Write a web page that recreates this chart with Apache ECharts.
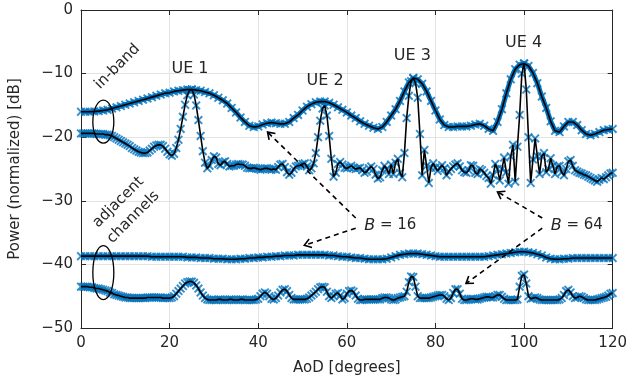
<!DOCTYPE html>
<html>
<head>
<meta charset="utf-8">
<script src="https://cdn.jsdelivr.net/npm/echarts@6/dist/echarts.min.js"></script>
<style>html,body{margin:0;padding:0;background:#fff;}#c{width:630px;height:390px;}</style>
</head>
<body>
<div id="c"></div>
<script>
// ---- data (AoD in degrees, power in dB) ----
const X_TICKS = [0, 20, 40, 60, 80, 100, 120];
const Y_TICKS = [-50, -40, -30, -20, -10, 0];
const STEP_B16 = 1;    // degrees between samples for B = 16 curves
const STEP_B64 = 0.5;  // degrees between samples for B = 64 curves

// B = 16, in-band (x = 0..120 step 1)
const B16_INBAND = [
-16.0,-16.0,-16.0,-15.95,-15.9,-15.8,-15.7,-15.5,-15.3,-15.1,
-14.9,-14.7,-14.5,-14.3,-14.1,-13.9,-13.7,-13.5,-13.3,-13.1,
-13.0,-12.8,-12.7,-12.6,-12.5,-12.5,-12.6,-12.7,-12.9,-13.1,
-13.4,-13.8,-14.2,-14.7,-15.4,-16.1,-16.9,-17.6,-18.2,-18.4,
-18.3,-18.0,-17.8,-17.7,-17.8,-17.9,-17.9,-17.6,-17.0,-16.5,
-15.8,-15.2,-14.8,-14.5,-14.4,-14.4,-14.6,-14.9,-15.3,-15.7,
-16.1,-16.6,-17.0,-17.5,-17.9,-18.2,-18.5,-18.7,-18.4,-17.6,
-16.6,-15.6,-14.3,-12.8,-11.4,-10.7,-10.9,-11.6,-12.8,-14.3,
-15.8,-17.2,-18.1,-18.4,-18.4,-18.3,-18.3,-18.3,-18.2,-18.0,
-17.9,-18.2,-18.7,-19.0,-17.6,-15.6,-13.1,-10.9,-9.3,-8.6,
-8.4,-8.8,-9.9,-11.5,-13.6,-15.4,-17.5,-19.0,-19.2,-18.3,
-17.6,-17.6,-18.1,-18.9,-19.5,-19.7,-19.5,-19.2,-18.9,-18.8,
-18.7
];

// B = 64, in-band (x = 0..120 step 0.5)
const B64_INBAND = [
-19.4,-19.4,-19.4,-19.4,-19.4,-19.4,-19.4,-19.5,-19.5,-19.5,
-19.5,-19.6,-19.6,-19.7,-19.8,-20.0,-20.2,-20.4,-20.6,-20.8,
-21.0,-21.2,-21.4,-21.7,-21.9,-22.1,-22.3,-22.4,-22.5,-22.5,
-22.4,-22.1,-21.8,-21.5,-21.3,-21.2,-21.2,-21.4,-21.8,-22.3,
-22.7,-22.9,-22.6,-21.7,-20.4,-18.7,-16.8,-14.9,-13.4,-12.6,
-12.5,-13.3,-15.0,-17.3,-19.8,-22.2,-24.0,-24.9,-24.5,-23.6,
-23.0,-23.2,-24.2,-24.4,-23.9,-23.8,-24.2,-24.6,-24.5,-24.5,
-24.3,-24.2,-24.3,-24.3,-24.5,-24.8,-24.9,-24.9,-24.8,-24.9,
-25.0,-25.1,-25.0,-24.9,-24.9,-25.0,-25.1,-25.0,-25.1,-24.7,
-24.3,-24.2,-24.7,-25.5,-25.9,-25.6,-25.0,-24.6,-24.5,-24.4,
-24.2,-24.1,-24.6,-25.2,-24.9,-24.1,-22.5,-20.0,-17.4,-15.5,
-15.0,-16.6,-19.8,-23.4,-26.2,-25.6,-24.2,-23.9,-24.3,-24.8,
-24.9,-24.7,-24.5,-24.8,-25.0,-24.9,-24.8,-25.2,-25.6,-25.4,
-24.9,-24.6,-25.0,-25.9,-26.5,-26.3,-25.2,-24.5,-25.0,-25.8,
-24.3,-25.8,-24.0,-23.4,-25.6,-26.3,-22.5,-17.0,-13.5,-11.2,
-10.7,-11.5,-13.8,-19.5,-26.0,-22.0,-24.5,-27.2,-24.8,-24.1,
-24.8,-25.3,-24.8,-24.4,-24.9,-26.0,-25.4,-25.0,-24.6,-24.3,
-24.1,-24.6,-25.2,-25.5,-25.6,-25.2,-24.4,-24.5,-25.6,-25.8,
-25.0,-25.2,-25.6,-26.1,-26.4,-27.3,-26.0,-24.2,-25.0,-26.8,
-25.0,-23.2,-25.5,-27.3,-23.0,-21.2,-27.0,-21.5,-16.5,-10.0,
-8.4,-12.5,-20.0,-27.2,-23.5,-20.2,-23.0,-25.8,-23.0,-22.5,
-25.5,-25.0,-23.3,-24.5,-25.8,-24.6,-24.5,-25.5,-26.0,-25.0,
-23.8,-23.6,-24.5,-25.2,-25.4,-25.6,-25.7,-25.9,-26.0,-26.2,
-26.4,-26.6,-26.8,-27.0,-26.7,-26.4,-26.6,-26.3,-26.0,-25.7,
-25.6
];

// B = 16, adjacent channels (x = 0..120 step 1)
const B16_ADJ = [
-38.7,-38.7,-38.7,-38.7,-38.7,-38.7,-38.7,-38.7,-38.7,-38.7,
-38.7,-38.7,-38.7,-38.7,-38.7,-38.7,-38.8,-38.8,-38.8,-38.8,
-38.8,-38.8,-38.8,-38.8,-38.9,-38.9,-38.9,-39.0,-39.0,-39.0,
-39.1,-39.1,-39.1,-39.2,-39.2,-39.2,-39.1,-39.1,-39.0,-39.0,
-38.9,-38.9,-38.8,-38.8,-38.7,-38.7,-38.6,-38.6,-38.6,-38.5,
-38.5,-38.5,-38.5,-38.5,-38.5,-38.5,-38.6,-38.6,-38.7,-38.8,
-38.8,-38.9,-39.0,-39.0,-39.1,-39.2,-39.2,-39.2,-39.2,-39.1,
-38.9,-38.7,-38.5,-38.4,-38.3,-38.3,-38.3,-38.4,-38.5,-38.6,
-38.7,-38.8,-38.8,-38.8,-38.8,-38.8,-38.8,-38.8,-38.8,-38.8,
-38.8,-38.8,-38.7,-38.6,-38.5,-38.4,-38.3,-38.2,-38.1,-38.0,
-38.0,-38.1,-38.2,-38.4,-38.6,-38.9,-39.1,-39.2,-39.2,-39.1,
-39.1,-39.0,-39.0,-39.0,-39.0,-39.0,-39.0,-39.0,-39.0,-39.0,
-39.0
];

// B = 64, adjacent channels (x = 0..120 step 0.5)
const B64_ADJ = [
-43.5,-43.5,-43.5,-43.5,-43.6,-43.6,-43.7,-43.8,-43.8,-43.9,
-44.0,-44.1,-44.2,-44.4,-44.5,-44.7,-44.8,-44.9,-45.0,-45.1,
-45.2,-45.2,-45.3,-45.3,-45.3,-45.3,-45.3,-45.3,-45.3,-45.3,
-45.2,-45.2,-45.2,-45.2,-45.2,-45.2,-45.2,-45.3,-45.3,-45.3,
-45.3,-45.2,-45.0,-44.6,-44.2,-43.8,-43.4,-43.0,-42.8,-42.7,
-42.7,-42.9,-43.3,-43.8,-44.4,-44.9,-45.3,-45.5,-45.6,-45.6,
-45.6,-45.6,-45.5,-45.5,-45.6,-45.6,-45.6,-45.5,-45.5,-45.6,
-45.6,-45.6,-45.5,-45.5,-45.6,-45.6,-45.6,-45.6,-45.6,-45.5,
-45.4,-45.0,-44.6,-44.4,-44.6,-45.0,-45.4,-45.5,-45.3,-44.9,
-44.4,-44.0,-43.9,-44.2,-44.8,-45.3,-45.5,-45.5,-45.5,-45.5,
-45.5,-45.5,-45.4,-45.2,-44.9,-44.6,-44.3,-43.9,-43.6,-43.5,
-43.6,-44.3,-45.0,-45.3,-45.0,-44.6,-44.5,-44.9,-45.5,-45.3,
-44.6,-44.2,-44.1,-44.3,-44.9,-45.4,-45.6,-45.6,-45.5,-45.5,
-45.5,-45.5,-45.5,-45.5,-45.5,-45.5,-45.3,-45.2,-45.2,-45.3,
-45.5,-45.6,-45.5,-45.3,-45.2,-45.1,-45.0,-44.3,-42.8,-41.9,
-42.0,-43.5,-45.0,-45.3,-45.3,-45.3,-45.3,-45.3,-45.2,-45.1,
-45.0,-44.9,-44.8,-44.8,-45.0,-45.4,-45.6,-45.3,-44.5,-43.9,
-43.9,-44.6,-45.4,-45.6,-45.6,-45.5,-45.4,-45.4,-45.5,-45.5,
-45.4,-45.3,-45.2,-45.1,-45.1,-45.2,-45.2,-45.0,-44.8,-44.8,
-45.1,-45.4,-45.6,-45.6,-45.6,-45.6,-45.6,-45.5,-43.5,-41.8,
-41.6,-43.0,-45.0,-45.4,-45.3,-45.2,-45.3,-45.5,-45.6,-45.6,
-45.6,-45.6,-45.6,-45.6,-45.6,-45.6,-45.5,-45.3,-44.8,-44.2,
-44.0,-44.4,-45.0,-45.3,-45.2,-45.0,-45.1,-45.3,-45.5,-45.6,
-45.6,-45.6,-45.6,-45.5,-45.4,-45.3,-45.2,-45.1,-44.9,-44.6,
-44.5
];

// ---- annotations (data coordinates) ----
const UE_LABELS = [
  {text: 'UE 1', x: 24.6, y: -9.2},
  {text: 'UE 2', x: 55.1, y: -11.1},
  {text: 'UE 3', x: 74.8, y: -7.2},
  {text: 'UE 4', x: 99.9, y: -5.2}
];
const B_LABELS = [
  {text: '16', x: 69.8, y: -33.9},
  {text: '64', x: 111.9, y: -33.9}
];
const ARROWS = [
  {from: [62.0, -32.7], to: [42.1, -19.2]},
  {from: [62.0, -34.3], to: [50.4, -37.0]},
  {from: [104.1, -32.7], to: [94.0, -28.6]},
  {from: [104.1, -34.3], to: [86.9, -43.0]}
];

// ---- chart ----
const FONT = 'DejaVu Sans';
const TXT = '#262626';
const BLUE = '#0072BD';
const XMARK = 'path://M0,1.5L1.5,0L5,3.5L8.5,0L10,1.5L6.5,5L10,8.5L8.5,10L5,6.5L1.5,10L0,8.5L3.5,5Z';

function pairs(arr, step) { return arr.map((v, i) => [i * step, v]); }
const minus = v => String(v).replace('-', '\u2212');

function curve(name, arr, step, underlay) {
  const d = pairs(arr, step);
  const out = [];
  if (underlay) {
    out.push({name: name + ' band', type: 'line', data: d, symbol: 'none', silent: true,
      lineStyle: {color: BLUE, width: underlay}, z: 2, animation: false});
  }
  out.push({name: name + ' markers', type: 'scatter', data: d, symbol: XMARK, symbolSize: 9,
    itemStyle: {color: BLUE}, z: 3, animation: false, silent: true});
  out.push({name: name, type: 'line', data: d, symbol: 'none',
    lineStyle: {color: '#000', width: 1.6}, z: 4, animation: false, silent: true});
  return out;
}

const chart = echarts.init(document.getElementById('c'), null, {renderer: 'canvas'});

const axisCommon = {
  axisLine: {show: true, onZero: false, lineStyle: {color: TXT, width: 1}},
  axisTick: {show: true, inside: true, length: 5, lineStyle: {color: TXT}},
};

chart.setOption({
  animation: false,
  backgroundColor: '#fff',
  grid: {left: 80, right: 14, top: 10, bottom: 62, containLabel: false},
  xAxis: [
    Object.assign({type: 'value', min: 0, max: 120, interval: 20, position: 'bottom',
      name: 'AoD [degrees]', nameLocation: 'middle', nameGap: 33,
      nameTextStyle: {color: TXT, fontFamily: FONT, fontSize: 15},
      axisLabel: {color: TXT, fontFamily: FONT, fontSize: 15, margin: 8, formatter: minus,
        customValues: X_TICKS},
      splitLine: {show: true, lineStyle: {color: '#e3e3e3', width: 1}}}, axisCommon),
    Object.assign({type: 'value', min: 0, max: 120, interval: 20, position: 'top',
      axisLabel: {show: false}, splitLine: {show: false}}, axisCommon)
  ],
  yAxis: [
    Object.assign({type: 'value', min: -50, max: 0, interval: 10, position: 'left',
      name: 'Power (normalized) [dB]', nameLocation: 'middle', nameGap: 58,
      nameTextStyle: {color: TXT, fontFamily: FONT, fontSize: 15},
      axisLabel: {color: TXT, fontFamily: FONT, fontSize: 15, margin: 8, formatter: minus,
        customValues: Y_TICKS},
      splitLine: {show: true, lineStyle: {color: '#e3e3e3', width: 1}}}, axisCommon),
    Object.assign({type: 'value', min: -50, max: 0, interval: 10, position: 'right',
      axisLabel: {show: false}, splitLine: {show: false}}, axisCommon)
  ],
  series: [].concat(
    curve('B=16 in-band', B16_INBAND, STEP_B16, 5),
    curve('B=64 in-band', B64_INBAND, STEP_B64, 0),
    curve('B=16 adjacent', B16_ADJ, STEP_B16, 5),
    curve('B=64 adjacent', B64_ADJ, STEP_B64, 0)
  )
});

function P(x, y) { return chart.convertToPixel({gridIndex: 0}, [x, y]); }

const g = [];
UE_LABELS.forEach(u => {
  const p = P(u.x, u.y);
  g.push({type: 'text', x: p[0], y: p[1], z: 10,
    style: {text: u.text, fill: TXT, font: '16px "' + FONT + '"', align: 'center', verticalAlign: 'middle'}});
});
B_LABELS.forEach(b => {
  const p = P(b.x, b.y);
  g.push({type: 'text', x: p[0], y: p[1], z: 10,
    style: {text: '{i|B} = ' + b.text, fill: TXT, font: '15px "' + FONT + '"', align: 'center', verticalAlign: 'middle',
      rich: {i: {fontStyle: 'italic', fontFamily: FONT, fontSize: 16, fill: TXT}}}});
});
// rotated labels
let p = P(8.2, -8.9);
g.push({type: 'text', x: p[0], y: p[1], rotation: Math.PI / 4, z: 10,
  style: {text: 'in-band', fill: TXT, font: '15px "' + FONT + '"', align: 'center', verticalAlign: 'middle'}});
p = P(10.1, -31.4);
g.push({type: 'text', x: p[0], y: p[1], rotation: Math.PI / 4, z: 10,
  style: {text: 'adjacent\nchannels', fill: TXT, font: '15px "' + FONT + '"', align: 'center', verticalAlign: 'middle', lineHeight: 21}});
// ellipses
p = P(5.04, -17.56);
g.push({type: 'ellipse', shape: {cx: p[0], cy: p[1], rx: 10.5, ry: 21.5}, z: 10,
  style: {fill: 'none', stroke: '#000', lineWidth: 1.3}});
p = P(5.04, -41.3);
g.push({type: 'ellipse', shape: {cx: p[0], cy: p[1], rx: 10.5, ry: 27}, z: 10,
  style: {fill: 'none', stroke: '#000', lineWidth: 1.3}});
// arrows
ARROWS.forEach(a => {
  const s = P(a.from[0], a.from[1]);
  const t = P(a.to[0], a.to[1]);
  g.push({type: 'line', shape: {x1: s[0], y1: s[1], x2: t[0], y2: t[1]}, z: 10,
    style: {stroke: '#000', lineWidth: 1.6, lineDash: [5, 4]}});
  const dx = t[0] - s[0], dy = t[1] - s[1];
  const L = Math.hypot(dx, dy), ux = dx / L, uy = dy / L;
  const len = 8, th = 0.6;
  const w = sgn => {
    const c = Math.cos(sgn * th), sn = Math.sin(sgn * th);
    const rx = ux * c - uy * sn, ry = ux * sn + uy * c;
    return [t[0] - len * rx, t[1] - len * ry];
  };
  g.push({type: 'polyline', shape: {points: [w(1), t, w(-1)]}, z: 10,
    style: {stroke: '#000', lineWidth: 1.6, fill: 'none'}});
});
chart.setOption({graphic: g});
</script>
</body>
</html>
